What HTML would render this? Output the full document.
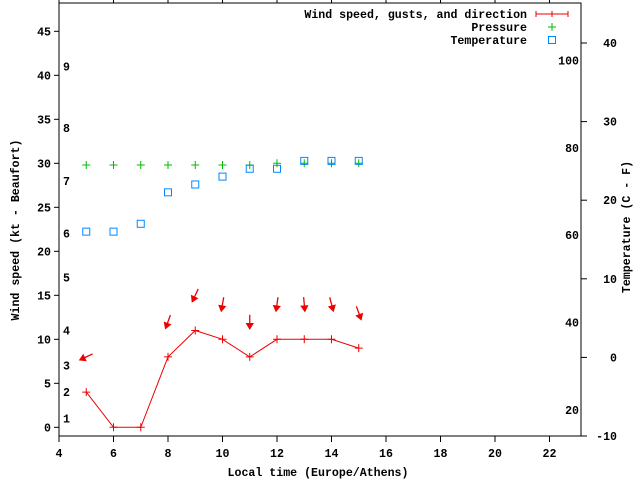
<!DOCTYPE html>
<html><head><meta charset="utf-8"><style>
body{margin:0;background:#fff}
svg{display:block}
text{font-family:"Liberation Mono","DejaVu Sans Mono",monospace;font-weight:bold;font-size:11.6px;fill:#000}
</style></head><body>
<svg id="chart" width="640" height="480" viewBox="0 0 640 480" xmlns="http://www.w3.org/2000/svg">
<g id="axes"></g><g id="marks"></g>
<g>
<text x="527" y="18" text-anchor="end">Wind speed, gusts, and direction</text>
<path d="M536 14H568M536 11V17M568 11V17M552 11V17" stroke="#e00" fill="none"/>
<text x="527" y="31" text-anchor="end">Pressure</text>
<path d="M548 27H556M552 23V31" stroke="#0b0"/>
<text x="527" y="44" text-anchor="end">Temperature</text>
<rect x="548.5" y="36.5" width="7" height="7" fill="none" stroke="#08f"/>
</g>
<text x="318" y="476" text-anchor="middle">Local time (Europe/Athens)</text>
<text transform="translate(19,230) rotate(-90)" text-anchor="middle">Wind speed (kt - Beaufort)</text>
<text transform="translate(630,227) rotate(-90)" text-anchor="middle">Temperature (C - F)</text>
</svg>
<script>
const hours=[5,6,7,8,9,10,11,12,13,14,15];
const windSpeed=[4,0,0,8,11,10,8,10,10,10,9];
const windDir=[65,0,0,20,25,10,0,8,355,345,340];
const pressure=[29.8,29.8,29.8,29.8,29.8,29.8,29.8,30,30,30,30];
const tempC=[16,16,17,21,22,23,24,24,25,25,25];
const xTicks=[4,6,8,10,12,14,16,18,20,22];
const yTicks=[0,5,10,15,20,25,30,35,40,45];
const cTicks=[-10,0,10,20,30,40];
const fTicks=[20,40,60,80,100];
const bft=[[1,1],[2,4],[3,7],[4,11],[5,17],[6,22],[7,28],[8,34],[9,41]];

const L=59,R=581,T=3,B=436;
const X=v=>L+(v-4)*27.25;
const Y=v=>427.3-v*8.8;
const YC=c=>436-(c+10)*7.86;
const YF=f=>YC((f-32)/1.8);
const NS="http://www.w3.org/2000/svg";
function mk(tag,attrs,parent,txt){const e=document.createElementNS(NS,tag);for(const k in attrs)e.setAttribute(k,attrs[k]);if(txt!==undefined)e.textContent=txt;parent.appendChild(e);return e;}
const ax=document.getElementById('axes'),mg=document.getElementById('marks');
let e=mk('rect',{x:L,y:T,width:R-L,height:B-T,fill:'none',stroke:'#000'},ax);


xTicks.forEach(v=>{
 let t=mk('path',{d:`M${X(v)} ${B}V${B+6}M${X(v)} ${T}V${T-4}`,stroke:'#000'},ax);
 
 
 let l=mk('text',{x:X(v),y:B+21,'text-anchor':'middle'},ax,String(v));
 
 
});
yTicks.forEach(v=>{
 let t=mk('path',{d:`M${L} ${Y(v)}H${L-5}`,stroke:'#000'},ax);
 
 
 let l=mk('text',{x:L-8,y:Y(v)+4,'text-anchor':'end'},ax,String(v));
 
 
});
bft.forEach(b=>{
 let l=mk('text',{x:63,y:Y(b[1])+4},ax,String(b[0]));
 
 
});
cTicks.forEach(v=>{
 let t=mk('path',{d:`M${R} ${YC(v)}H${R+6}`,stroke:'#000'},ax);
 
 
 let l=mk('text',{x:R+36,y:YC(v)+4,'text-anchor':'end'},ax,String(v));
 
 
});
fTicks.forEach(v=>{
 let l=mk('text',{x:R-2,y:YF(v)+4,'text-anchor':'end'},ax,String(v));
 
 
});
let pl=mk('polyline',{points:hours.map((h,i)=>X(h)+','+Y(windSpeed[i])).join(' '),fill:'none',stroke:'#e00'},mg);


hours.forEach((h,i)=>{
 const x=X(h),y=Y(windSpeed[i]);
 let p=mk('path',{d:`M${x-4} ${y}H${x+4}M${x} ${y-4}V${y+4}`,stroke:'#e00'},mg);
 
 
 if(windSpeed[i]>0){
  const cx=x,cy=Y(windSpeed[i]+4),a=windDir[i]*Math.PI/180;
  const dx=-Math.sin(a),dy=Math.cos(a),len=7;
  const x1=cx-dx*len,y1=cy-dy*len,x2=cx+dx*len,y2=cy+dy*len;
  const hx=-dx*5,hy=-dy*5,px=-dy*3,py=dx*3;
  let ar=mk('path',{d:`M${x1} ${y1}L${x2} ${y2}M${x2} ${y2}L${x2+hx+px} ${y2+hy+py}L${x2+hx-px} ${y2+hy-py}Z`,stroke:'#e00',fill:'#e00','stroke-width':1.3},mg);
  
  
 }
});
hours.forEach((h,i)=>{
 const x=X(h),y=Y(pressure[i]);
 let p=mk('path',{d:`M${x-4} ${y}H${x+4}M${x} ${y-4}V${y+4}`,stroke:'#0b0'},mg);
 
 
});
hours.forEach((h,i)=>{
 const x=X(h),y=YC(tempC[i]);
 let r=mk('rect',{x:x-3.5,y:y-3.5,width:7,height:7,fill:'none',stroke:'#08f'},mg);
 
 
});
</script>
</body></html>
